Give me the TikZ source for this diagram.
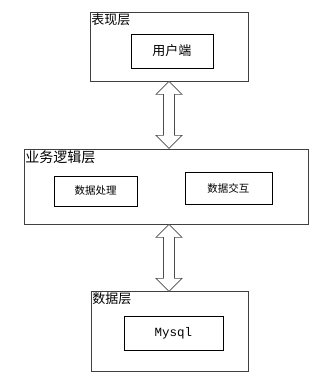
\documentclass[tikz,border=0pt]{standalone}
\usepackage{fontspec}
\setmainfont{Noto Sans CJK SC}
\setmonofont{Liberation Mono}
\usetikzlibrary{positioning}

\begin{document}
\begin{tikzpicture}[
    x=1pt, y=1pt,
    layer/.style={
        draw=black!75,
        line width=0.8pt,
        inner sep=0pt
    },
    part/.style={
        draw,
        line width=0.7pt,
        inner sep=0pt
    },
    title/.style={
        anchor=north west,
        inner sep=1.5pt,
        font=\fontsize{13}{13}\selectfont
    },
    blockarrow/.style={
        draw=black!70,
        fill=white,
        line width=0.7pt
    }
]
\useasboundingbox (0,0) rectangle (330,384);

% ---------------- LAYERS ----------------
\node[layer, minimum width=158pt, minimum height=69pt] (PRES) at (169,337.5) {};
\node[layer, minimum width=284pt, minimum height=75pt] (LOGIC) at (166,197.5) {};
\node[layer, minimum width=157pt, minimum height=80pt] (DATA) at (169.5,53) {};

\node[title] (PRESt)  at (PRES.north west)  {表现层};
\node[title, font=\fontsize{14}{14}\selectfont] (LOGICt) at (LOGIC.north west) {业务逻辑层};
\node[title] (DATAt)  at (DATA.north west)  {数据层};

% ---------------- PARTS ----------------
\node[part, minimum width=82pt, minimum height=34pt, font=\fontsize{13}{13}\selectfont] (CLIENT) at (172,333)   {用户端};
\node[part, minimum width=83pt, minimum height=30pt, font=\fontsize{10.5}{10.5}\selectfont] (PROC)   at (95.5,193) {数据处理};
\node[part, minimum width=87pt, minimum height=32pt, font=\fontsize{10.5}{10.5}\selectfont] (XCHG)   at (228.5,196) {数据交互};
\node[part, minimum width=99pt, minimum height=34pt, font=\ttfamily\fontsize{12.5}{12.5}\selectfont] (MYSQL) at (173.5,51) {Mysql};

% ---------------- ARROWS ----------------
\draw[blockarrow] (PRES.south) -- ++(13,-13) -- ++(-7.5,0) -- ++(0,-41) -- ++(7.5,0)
    -- ++(-13,-13) -- ++(-13,13) -- ++(7.5,0) -- ++(0,41) -- ++(-7.5,0) -- cycle;
\draw[blockarrow] (LOGIC.south -| PRES.south) -- ++(13,-13) -- ++(-7.5,0) -- ++(0,-41) -- ++(7.5,0)
    -- ++(-13,-13) -- ++(-13,13) -- ++(7.5,0) -- ++(0,41) -- ++(-7.5,0) -- cycle;

\end{tikzpicture}
\end{document}
